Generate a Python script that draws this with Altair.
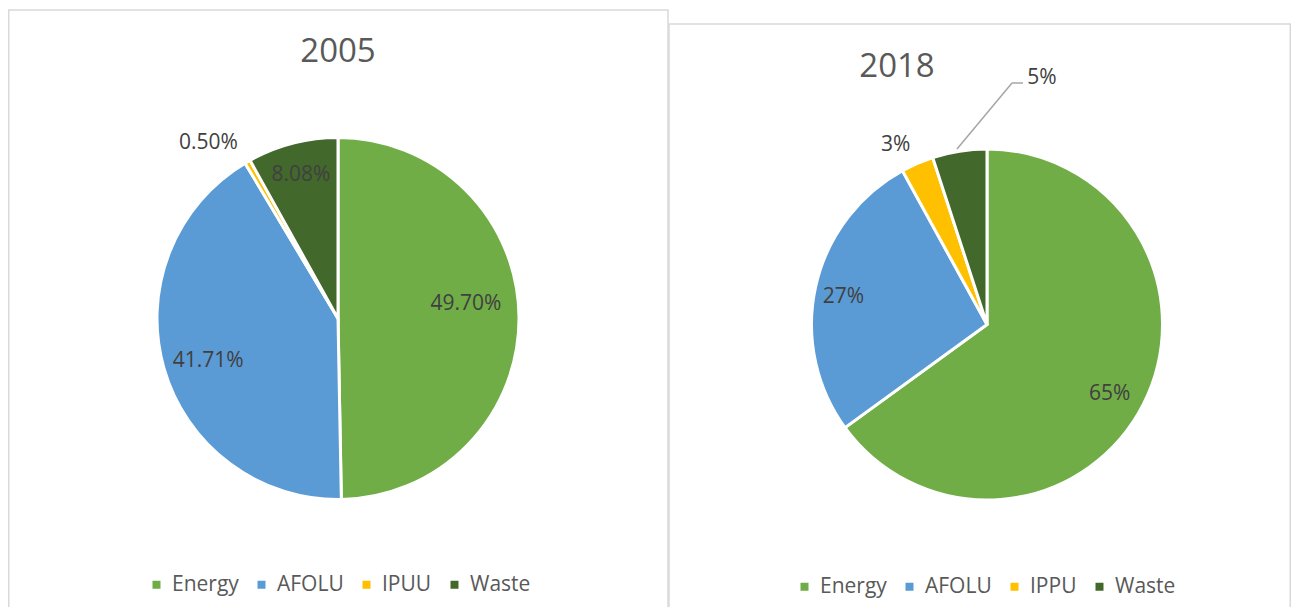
import altair as alt
import pandas as pd

# ---- data ----
years = ["2005", "2018"]
categories_2005 = ["Energy", "AFOLU", "IPUU", "Waste"]
shares_2005 = [49.70, 41.71, 0.50, 8.08]
labels_2005 = ["49.70%", "41.71%", "0.50%", "8.08%"]
categories_2018 = ["Energy", "AFOLU", "IPPU", "Waste"]
shares_2018 = [65, 27, 3, 5]
labels_2018 = ["65%", "27%", "3%", "5%"]
colors = ["#70AD47", "#5B9BD5", "#FFC000", "#43682B"]

FONT = "Open Sans"
W, H = 1283, 599


def table(cats, shares, labels, field):
    return pd.DataFrame({field: cats, "share": shares, "label": labels,
                         "idx": list(range(len(cats)))})


df05 = table(categories_2005, shares_2005, labels_2005, "cat05")
df18 = table(categories_2018, shares_2018, labels_2018, "cat18")
dummy = pd.DataFrame({"k": [0]})


def pie(df, cats, cx, cy, r, lx, ly, label_layout, field):
    base = alt.Chart(df).encode(
        theta=alt.Theta("share:Q", stack=True),
        order=alt.Order("idx:Q"),
        x=alt.value(cx), y=alt.value(cy),
    )
    arc = base.mark_arc(outerRadius=r, stroke="white", strokeWidth=3).encode(
        color=alt.Color(f"{field}:N", sort=None,
                        scale=alt.Scale(domain=cats, range=colors),
                        legend=alt.Legend(title=None, orient="none", legendX=lx, legendY=ly,
                                          direction="horizontal", symbolType="square",
                                          symbolSize=64, symbolStrokeWidth=0,
                                          labelFont=FONT, labelFontSize=21,
                                          labelColor="#595959", labelOffset=5,
                                          columnPadding=12, padding=0))
    )
    layers = [arc]
    for i, (R, dx, dy) in enumerate(label_layout):
        layers.append(
            base.mark_text(radius=R, dx=dx, dy=dy, font=FONT, fontSize=21,
                           color="#404040").encode(
                text=alt.condition(f"datum.idx == {i}", "label:N", alt.value(""))
            )
        )
    return layers


layers05 = pie(df05, categories_2005, 330, 310.5, 181, 138, 566,
               [(128, 0, -13), (135, 0, 5), (205, -27, 2), (148, 0, 0)], "cat05")
layers18 = pie(df18, categories_2018, 979, 316.5, 175.5, 786, 568,
               [(140, -2, 6), (147, 0, 5), (200, -12, 4), (250, 94, 0)], "cat18")

border_l = alt.Chart(dummy).mark_rect(fillOpacity=0, stroke="#d9d9d9", strokeWidth=1.5).encode(
    x=alt.value(0.75), x2=alt.value(660), y=alt.value(2), y2=alt.value(H + 20))
border_r = alt.Chart(dummy).mark_rect(fillOpacity=0, stroke="#d9d9d9", strokeWidth=1.5).encode(
    x=alt.value(661), x2=alt.value(W - 0.75), y=alt.value(16), y2=alt.value(H + 20))

t05 = alt.Chart(pd.DataFrame({"t": [years[0]]})).mark_text(
    font=FONT, fontSize=33, color="#595959").encode(
    text="t:N", x=alt.value(330), y=alt.value(44))
t18 = alt.Chart(pd.DataFrame({"t": [years[1]]})).mark_text(
    font=FONT, fontSize=33, color="#595959").encode(
    text="t:N", x=alt.value(889), y=alt.value(59))

lead1 = alt.Chart(dummy).mark_rule(color="#a6a6a6", strokeWidth=1.5).encode(
    x=alt.value(949), y=alt.value(141), x2=alt.value(1004), y2=alt.value(75))
lead2 = alt.Chart(dummy).mark_rule(color="#a6a6a6", strokeWidth=1.5).encode(
    x=alt.value(1004), y=alt.value(75), x2=alt.value(1015), y2=alt.value(75))

chart = alt.layer(
    border_l, border_r, *layers05, *layers18, lead1, lead2, t05, t18
).resolve_scale(color="independent", theta="independent").properties(
    width=W, height=H, autosize=alt.AutoSizeParams(type="none"), padding=0
).configure_view(stroke=None)

chart.save("out.html", embed_options={"renderer": "svg", "actions": False})
